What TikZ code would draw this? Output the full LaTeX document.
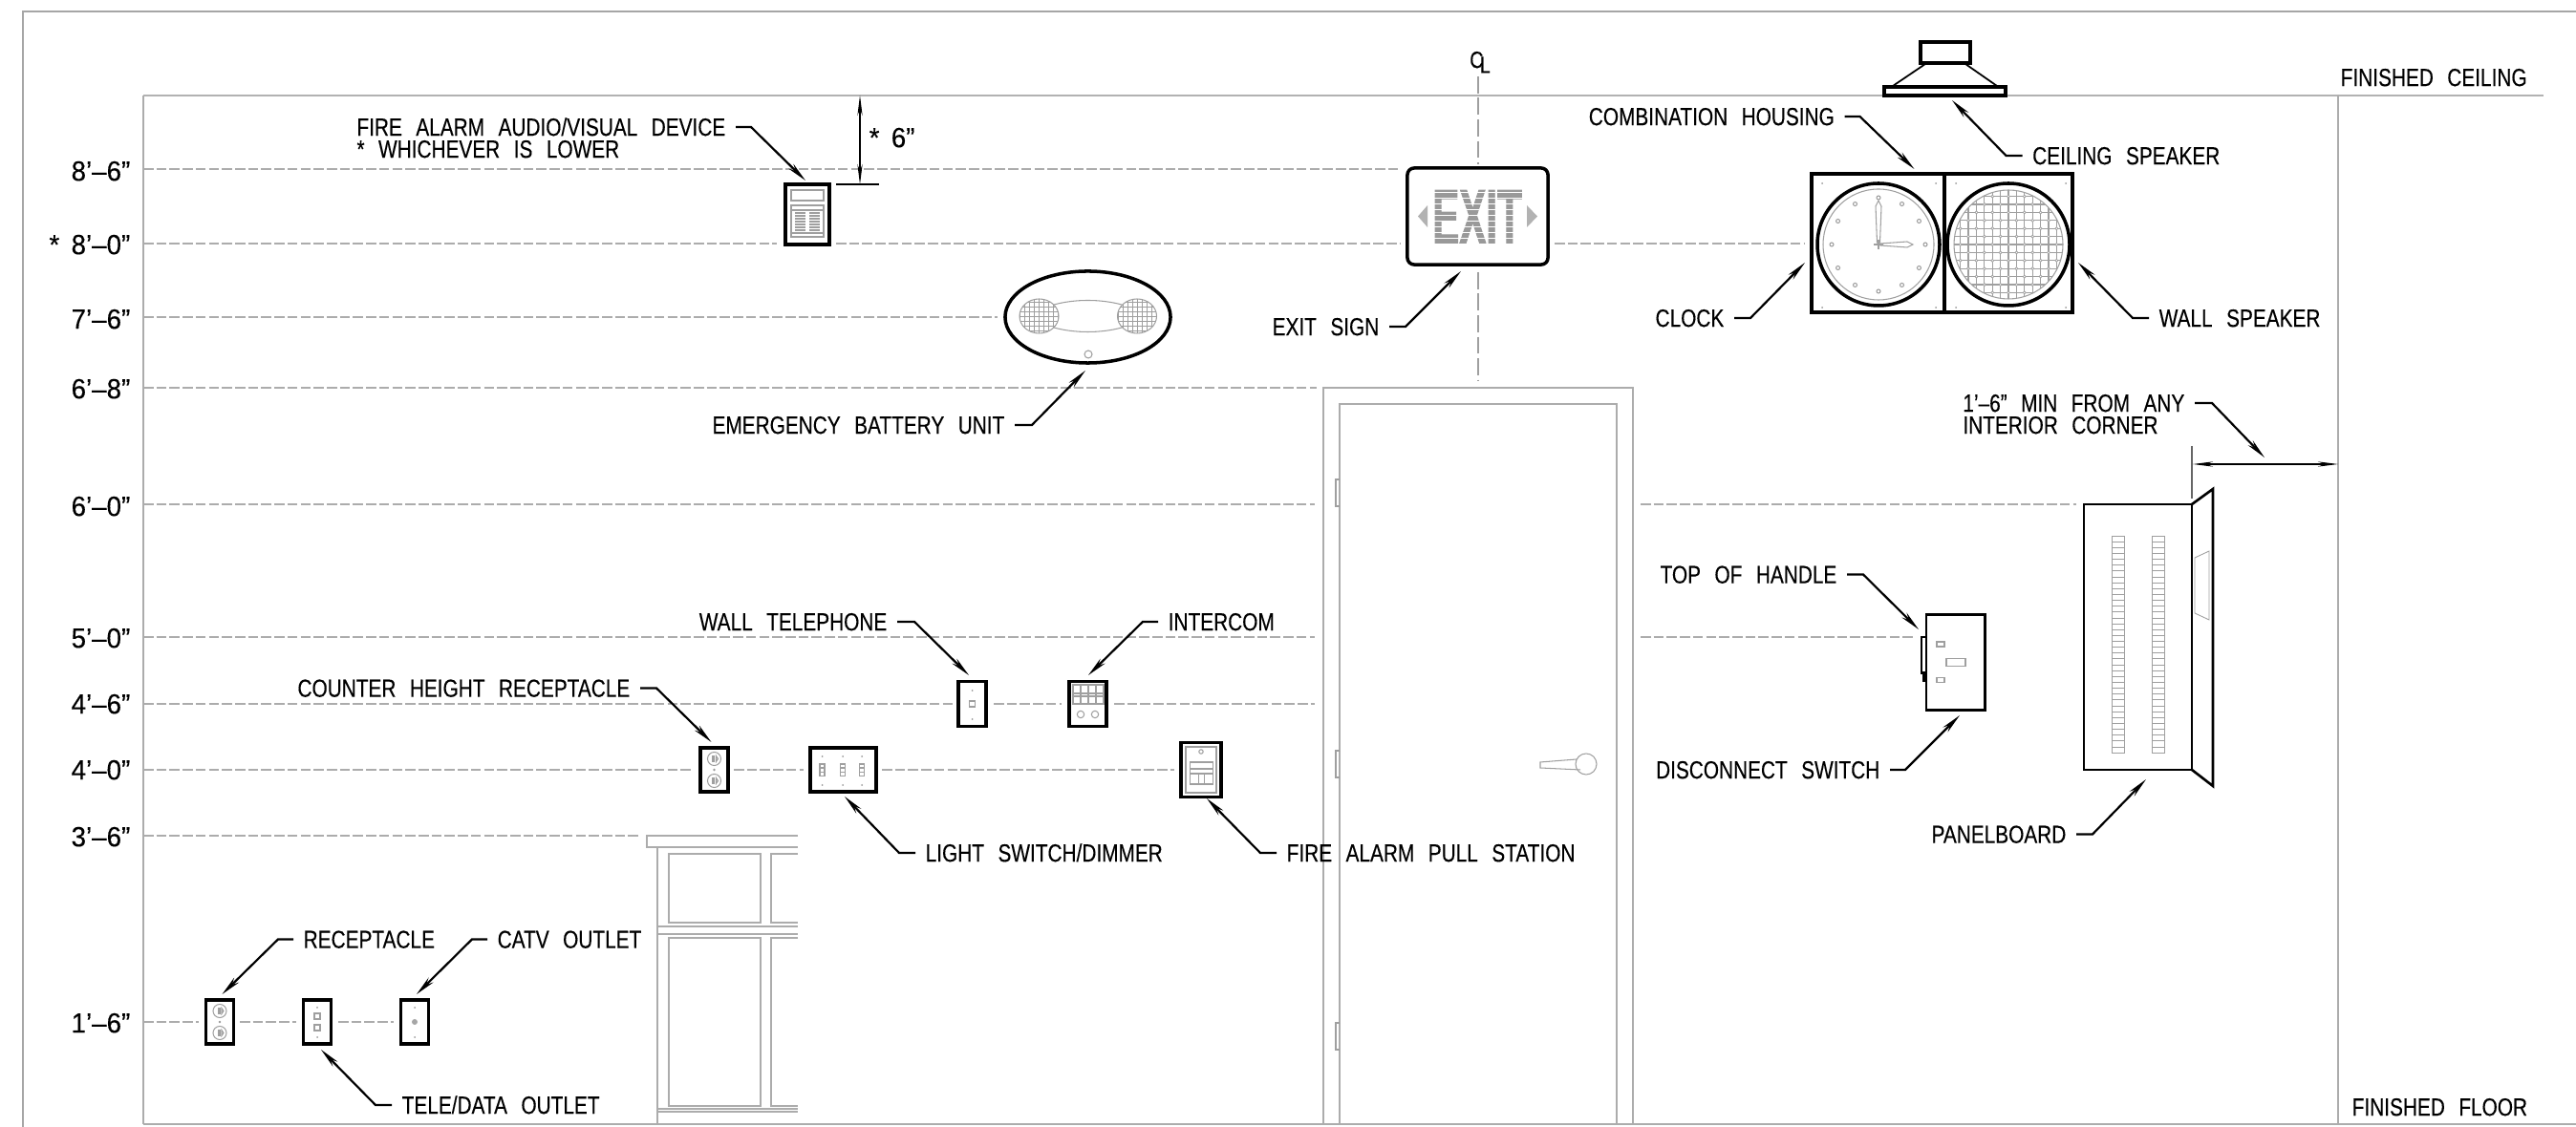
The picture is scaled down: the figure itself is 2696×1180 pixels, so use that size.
\documentclass[tikz,border=0pt]{standalone}
\usepackage{fontspec}
\setmainfont[FakeStretch=0.8,WordSpace=2.5,FakeBold=0.25]{Liberation Sans}
\newfontfamily\exitfont[FakeStretch=0.52,FakeBold=1.2]{Liberation Sans}
\newfontfamily\lvlfont[Ligatures=TeX,FakeStretch=0.95,WordSpace=1.6,FakeBold=0.25]{Liberation Sans}
\usetikzlibrary{arrows.meta,calc,shapes.geometric}
\tikzset{
  lbl/.style={font=\fontsize{7.4}{8}\selectfont,text=black,inner ysep=0pt,inner xsep=.1cm,text height=5.2pt,text depth=0pt},
  lvl/.style={lbl,font=\fontsize{8.3}{9}\selectfont\lvlfont,anchor=east,text height=5.8pt},
  leader/.style={line width=.62pt,-{Stealth[length=6pt,width=2pt]}},
  dimline/.style={line width=.3pt,{Stealth[length=6pt,width=1.5pt]}-{Stealth[length=6pt,width=1.5pt]}},
  level/.style={gray!65,line width=.4pt,dash pattern=on 3pt off .9pt},
  fine/.style={gray!75,line width=.3pt},
  wallline/.style={gray!65,line width=.4pt},
  plate/.style={draw,rectangle,line width=1pt,inner sep=0pt,outer sep=0pt}
}
\begin{document}
\begin{tikzpicture}[x=.01cm,y=-.01cm]
\useasboundingbox (0,0) rectangle (2696,1180);
\draw[gray!70,line width=.5pt] (24,1180) -- (24,12) -- (2696,12);
\draw[gray!60,line width=.7pt] (150,100) -- (2662,100);
\draw[wallline,line width=.6pt] (150,1177) -- (2696,1177);
\draw[wallline] (150,100) -- (150,1177);
\draw[wallline] (2447,100) -- (2447,1177);

\foreach \ly/\xa/\xb in {177/150/1466,255/150/813,255/875/1466,255/1627/1888,332/150/1044,406/150/1378,528/150/1376,528/1717/2173,667/150/1376,667/1717/2004,737/150/997,737/1040/1111,737/1166/1376,806/150/726,806/768/841,806/923/1229,875/150/669,1070/150/208,1070/251/310,1070/354/412}
  \draw[level] (\xa,\ly) -- (\xb,\ly);
\draw[gray!75,line width=.3pt,dash pattern=on 5pt off 1.4pt] (1547,80) -- (1547,172) (1547,285) -- (1547,398);

\node[lvl] (lvla) at (147,179) {8'--6''};
\node[lvl] (lvlb) at (147,256) {* 8'--0''};
\node[lvl] (lvlc) at (147,334) {7'--6''};
\node[lvl] (lvld) at (147,407) {6'--8''};
\node[lvl] (lvle) at (147,530) {6'--0''};
\node[lvl] (lvlf) at (147,668) {5'--0''};
\node[lvl] (lvlg) at (147,737) {4'--6''};
\node[lvl] (lvlh) at (147,806) {4'--0''};
\node[lvl] (lvli) at (147,876) {3'--6''};
\node[lvl] (lvlj) at (147,1071) {1'--6''};
\node[lbl,anchor=west] (lblceil) at (2439,81) {FINISHED CEILING};
\node[lbl,anchor=west] (lblfloor) at (2451,1159) {FINISHED FLOOR};
\node[lbl,font=\fontsize{7}{8}\selectfont,inner sep=0pt] (lblcl) at (1549,62) {\rlap{C}\kern3pt\raisebox{-1.5pt}{L}};
\node[lvl,anchor=west] (lblsix) at (899,144) {* 6''};

% door and counter
\draw[wallline] (1385,1177) -- (1385,406) -- (1709,406) -- (1709,1177);
\draw[wallline] (1402,1177) -- (1402,423) -- (1692,423) -- (1692,1177);
\foreach \hy in {502,786,1071}
  \draw[fine] (1402,\hy) -- (1398,\hy) -- (1398,\hy+28) -- (1402,\hy+28);
\draw[fine] (1660,800) circle (11);
\draw[fine] (1650,795) -- (1612,798) -- (1612,804) -- (1654,806);
\draw[wallline] (835,875) -- (677,875) -- (677,887) -- (835,887);
\draw[wallline] (688,887) -- (688,1177);
\draw[wallline] (688,970) -- (835,970) (688,978) -- (835,978) (688,1161) -- (835,1161) (688,1164) -- (835,1164);
\draw[wallline] (700,894) rectangle (796,966);
\draw[wallline] (700,982) rectangle (796,1158);
\draw[wallline] (835,894) -- (807,894) -- (807,966) -- (835,966);
\draw[wallline] (835,982) -- (807,982) -- (807,1158) -- (835,1158);

% fire alarm audio/visual device
\node[plate,minimum width=.46cm,minimum height=.63cm] (audiodev) at (845,224.5) {};
\draw[fine] (828,199) rectangle (862,210);
\draw[fine] (828,215) rectangle (862,248) (828,220) -- (862,220) (828,244) -- (862,244);
\foreach \ry in {223,226,229,232,235,238,241}
  \draw[fine] (832,\ry) -- (843,\ry) (847,\ry) -- (858,\ry);
\draw[line width=.3pt] (875,193) -- (920,193);
\draw[dimline] (900,100) -- (900,193);

% emergency battery unit
\node[draw,ellipse,line width=1pt,minimum width=1.73cm,minimum height=.96cm,inner sep=0pt] (battery) at (1138.5,332) {};
\foreach \cx in {1087.5,1190}{
  \begin{scope}
    \clip (\cx,331) ellipse (20.5 and 18);
    \foreach \gx in {-20,-15,...,20} \draw[fine,line width=.25pt] (\cx+\gx,310) -- (\cx+\gx,352);
    \foreach \gy in {-20,-15,...,20} \draw[fine,line width=.25pt] (\cx-22,331+\gy) -- (\cx+22,331+\gy);
  \end{scope}
  \draw[fine] (\cx,331) ellipse (20.5 and 18);
}
\draw[fine] (1103,319) .. controls (1125,313) and (1152,313) .. (1174,319);
\draw[fine] (1103,343) .. controls (1125,349) and (1152,349) .. (1174,343);
\draw[fine] (1139,371) circle (4);

% exit sign
\node[plate,rounded corners=2pt,minimum width=1.47cm,minimum height=1.01cm] (exitsign) at (1546.5,226.5) {};
\node[text=gray!80,inner sep=0pt,font=\fontsize{23}{24}\selectfont\exitfont\bfseries] (exitword) at (1546,227) {EXIT};
\foreach \ey in {201,207,...,256}
  \draw[white,line width=.12pt] (1498,\ey) -- (1595,\ey);
\fill[gray!60] (1494,215) -- (1484,226.5) -- (1494,238) -- cycle;
\fill[gray!60] (1598,215) -- (1609,226.5) -- (1598,238) -- cycle;

% ceiling speaker
\node[plate,minimum width=.52cm,minimum height=.22cm] (ceilbox) at (2036,55) {};
\draw[line width=.5pt] (2015,67) -- (1981,90) (2057,67) -- (2090,90);
\node[plate,minimum width=1.27cm,minimum height=.09cm] (ceilbar) at (2035.5,95.5) {};

% clock and wall speaker
\node[plate,minimum width=1.39cm,minimum height=1.45cm] (clockbox) at (1965.5,254.5) {};
\node[plate,minimum width=1.34cm,minimum height=1.45cm] (spkbox) at (2102,254.5) {};
\foreach \hx/\hy in {1907/192,2026/192,1907/322,2026/322,2047/192,2162/192,2047/322,2162/322}
  \fill[gray!80] (\hx,\hy) circle (1);
\draw[line width=1pt] (1966,256) circle (64);
\draw[fine] (1966,256) circle (58);
\foreach \ca in {0,30,...,330}
  \draw[fine] ($(1966,256)+(\ca:49)$) circle (2);
\draw[fine] (1966,210) -- (1969,216) -- (1967.5,254) -- (1964.5,254) -- (1963,216) -- cycle;
\draw[fine] (2002,256) -- (1996,253) -- (1968,255) -- (1968,257) -- (1996,259) -- cycle;
\draw[fine] (1961,256) -- (1971,256) (1966,251) -- (1966,261);
\begin{scope}
  \clip (2102,256) circle (57);
  \foreach \gi in {-7,...,7}{
    \draw[fine,line width=.3pt] (2102+\gi*8.4,195) -- (2102+\gi*8.4,315);
    \draw[fine,line width=.3pt] (2040,256+\gi*8.4) -- (2165,256+\gi*8.4);
  }
  \foreach \gi in {-6,-4,...,6}
    \foreach \gj in {-6,-4,...,6}{
      \draw[fine,fill=white,line width=.2pt] (2102+\gi*8.4,256+\gj*8.4) circle (1.5);
      \draw[fine,fill=white,line width=.2pt] (2102+\gi*8.4+8.4,256+\gj*8.4+8.4) circle (1.5);
    }
\end{scope}
\draw[fine] (2102,256) circle (57);
\draw[line width=1pt] (2102,256) circle (64);

% wall plates
\node[plate,minimum width=.29cm,minimum height=.46cm] (recepta) at (230,1070) {};
\node[plate,minimum width=.29cm,minimum height=.46cm] (teleout) at (332,1070) {};
\node[plate,minimum width=.29cm,minimum height=.46cm] (catvout) at (434,1070) {};
\node[plate,minimum width=.29cm,minimum height=.46cm] (receptb) at (747.5,806) {};
\node[plate,minimum width=.69cm,minimum height=.46cm] (lightsw) at (882.5,806) {};
\node[plate,minimum width=.29cm,minimum height=.47cm] (wallphone) at (1017.5,737) {};
\node[plate,minimum width=.39cm,minimum height=.47cm] (intercom) at (1138.5,737) {};
\node[plate,minimum width=.42cm,minimum height=.57cm] (pullstn) at (1257,806) {};
\foreach \px/\py in {230/1070,747.5/806}{
  \foreach \ps in {-1,1}{
    \draw[fine] (\px,\py+\ps*11.5) circle (7);
    \draw[fine] (\px-1.5,\py+\ps*11.5-3) rectangle ++(1.5,6);
    \draw[fine] (\px+2,\py+\ps*11.5-3) -- (\px+4,\py+\ps*11.5) -- (\px+2,\py+\ps*11.5+3) -- cycle;
  }
  \fill[gray!80] (\px,\py) circle (1.3);
}
\foreach \px in {332,434}
  \fill[gray!80] (\px,1055) circle (1) (\px,1086) circle (1);
\draw[fine] (329,1061) rectangle ++(6,6) (329,1073) rectangle ++(6,6);
\fill[gray!70] (434,1070) circle (3);
\foreach \px in {860.5,882,902}{
  \draw[fine] (\px-2.5,800) rectangle (\px+2.5,812.5) (\px-2.5,804) -- (\px+2.5,804) (\px-2.5,808.5) -- (\px+2.5,808.5);
  \fill[gray!80] (\px,792) circle (1) (\px,822) circle (1);
}
\draw[fine] (1014.5,734) rectangle ++(6,6);
\fill[gray!80] (1017.5,723) circle (1) (1017.5,753) circle (1);
\draw[fine] (1123,717) rectangle (1155,737);
\foreach \gx in {1131,1139,1147} \draw[fine] (\gx,717) -- (\gx,737);
\draw[fine] (1123,726) -- (1155,726) (1123,729) -- (1155,729);
\draw[fine] (1131,748) circle (3.7) (1146,748) circle (3.7);
\draw[fine] (1241,782) rectangle (1273,830);
\draw[fine] (1257,787) circle (2.2);
\draw[fine] (1245.5,798) rectangle (1269.5,821) (1245.5,805) -- (1269.5,805) (1245.5,810) -- (1269.5,810) (1254.5,810) -- (1254.5,821) (1260.5,810) -- (1260.5,821);

% disconnect switch
\node[plate,line width=.85pt,minimum width=.61cm,minimum height=.99cm] (discon) at (2046.5,693.5) {};
\draw[line width=.7pt] (2016,667) -- (2011,667) -- (2011,704.5) -- (2016,704.5);
\draw[line width=.9pt] (2014,704) -- (2014,714);
\draw[fine] (2027,672) rectangle (2035,677) (2037,689.5) rectangle (2057,697.5) (2027,709.5) rectangle (2035,714.5);

% panelboard
\node[plate,line width=.75pt,minimum width=1.13cm,minimum height=2.78cm] (panel) at (2237.5,667) {};
\draw[line width=.75pt] (2294,528) -- (2316,512) -- (2316,823) -- (2294,806);
\draw[fine,line width=.25pt] (2297,584) -- (2312,577) -- (2312,649) -- (2297,642) -- cycle;
\foreach \bx in {2210,2252}
  \foreach \bn in {0,...,36}
    \draw[fine,line width=.25pt] (\bx,561+\bn*6.14) rectangle ++(13,6.14);
\draw[line width=.3pt,gray!80!black] (2294,467) -- (2294,522);
\draw[dimline] (2295,486) -- (2447,486);

% callouts
\coordinate (tipaudio) at (843,189);
\coordinate (tipbattery) at (1136,388);
\coordinate (tipexit) at (1529,284);
\coordinate (tiphousing) at (2003.5,177);
\coordinate (tipceil) at (2043,105);
\coordinate (tipclock) at (1889,275);
\coordinate (tipspk) at (2175,275);
\coordinate (tipcorner) at (2370,479);
\coordinate (tiphandle) at (2008,659);
\coordinate (tipdiscon) at (2051,749);
\coordinate (tippanel) at (2246,816);
\coordinate (tipphone) at (1014,707);
\coordinate (tipintercom) at (1139,707);
\coordinate (tipcounter) at (744.5,777);
\coordinate (tipswitch) at (884,834);
\coordinate (tippull) at (1263,836);
\coordinate (tiprecept) at (232.5,1041);
\coordinate (tipcatv) at (436,1041);
\coordinate (tiptele) at (336,1099);

\node[lbl,anchor=east] (lblaudio) at (770,133) {FIRE ALARM AUDIO/VISUAL DEVICE};
\node[lbl,anchor=west] (lbllower) at ($(lblaudio.west)+(0,23)$) {* WHICHEVER IS LOWER};
\node[lbl,anchor=east] (lblbattery) at (1062,445) {EMERGENCY BATTERY UNIT};
\node[lbl,anchor=east] (lblexit) at (1454,342) {EXIT SIGN};
\node[lbl,anchor=east] (lblhousing) at (1930.5,122) {COMBINATION HOUSING};
\node[lbl,anchor=west] (lblspeaker) at (2116.5,163) {CEILING SPEAKER};
\node[lbl,anchor=east] (lblclock) at (1815,333) {CLOCK};
\node[lbl,anchor=west] (lblwall) at (2249,333) {WALL SPEAKER};
\node[lbl,anchor=east] (lblcorner) at (2297,422) {1'--6'' MIN FROM ANY};
\node[lbl,anchor=west] (lblinterior) at ($(lblcorner.west)+(0,23)$) {INTERIOR CORNER};
\node[lbl,anchor=east] (lblhandle) at (1933,601.5) {TOP OF HANDLE};
\node[lbl,anchor=east] (lbldiscon) at (1978,806) {DISCONNECT SWITCH};
\node[lbl,anchor=east] (lblpanel) at (2173,873.5) {PANELBOARD};
\node[lbl,anchor=east] (lblphone) at (939,651) {WALL TELEPHONE};
\node[lbl,anchor=west] (lblintercom) at (1212,651) {INTERCOM};
\node[lbl,anchor=east] (lblcounter) at (670,720.5) {COUNTER HEIGHT RECEPTACLE};
\node[lbl,anchor=west] (lblswitch) at (958,893) {LIGHT SWITCH/DIMMER};
\node[lbl,anchor=west] (lblpull) at (1336,893) {FIRE ALARM PULL STATION};
\node[lbl,anchor=west] (lblrecept) at (307,983.5) {RECEPTACLE};
\node[lbl,anchor=west] (lblcatv) at (510,983.5) {CATV OUTLET};
\node[lbl,anchor=west] (lbltele) at (410,1157) {TELE/DATA OUTLET};

\draw[leader] (lblaudio.east) -- ++(16,0) -- (tipaudio);
\draw[leader] (lblbattery.east) -- ++(18,0) -- (tipbattery);
\draw[leader] (lblexit.east) -- ++(17,0) -- (tipexit);
\draw[leader] (lblhousing.east) -- ++(16,0) -- (tiphousing);
\draw[leader] (lblspeaker.west) -- ++(-17,0) -- (tipceil);
\draw[leader] (lblclock.east) -- ++(17,0) -- (tipclock);
\draw[leader] (lblwall.west) -- ++(-17,0) -- (tipspk);
\draw[leader] (lblcorner.east) -- ++(18,0) -- (tipcorner);
\draw[leader] (lblhandle.east) -- ++(17,0) -- (tiphandle);
\draw[leader] (lbldiscon.east) -- ++(16,0) -- (tipdiscon);
\draw[leader] (lblpanel.east) -- ++(17,0) -- (tippanel);
\draw[leader] (lblphone.east) -- ++(18,0) -- (tipphone);
\draw[leader] (lblintercom.west) -- ++(-16,0) -- (tipintercom);
\draw[leader] (lblcounter.east) -- ++(17,0) -- (tipcounter);
\draw[leader] (lblswitch.west) -- ++(-17,0) -- (tipswitch);
\draw[leader] (lblpull.west) -- ++(-17,0) -- (tippull);
\draw[leader] (lblrecept.west) -- ++(-16,0) -- (tiprecept);
\draw[leader] (lblcatv.west) -- ++(-16,0) -- (tipcatv);
\draw[leader] (lbltele.west) -- ++(-17,0) -- (tiptele);
\end{tikzpicture}
\end{document}
